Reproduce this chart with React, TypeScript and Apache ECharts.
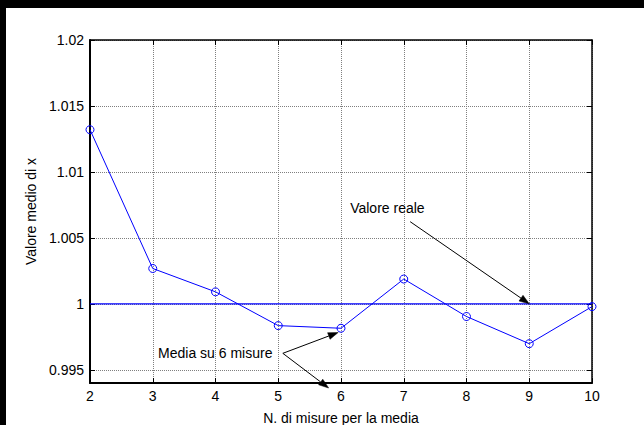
import React, { useEffect, useRef } from "react";
import * as echarts from "echarts";

// ---- data ----
const measureCounts = [2, 3, 4, 5, 6, 7, 8, 9, 10];
const meanValues = [1.0132, 1.00268, 1.00091, 0.99835, 0.99815, 1.00188, 0.99904, 0.99698, 0.99979];
const trueValue = 1;
const xRange = [2, 10];
const yRange = [0.994, 1.02];

// annotations (data coordinates)
const labelValoreReale = { text: "Valore reale", at: [6.146, 1.00729] };
const labelMedia = { text: "Media su 6 misure", at: [3.085, 0.9963] };
const arrows = [
  { from: [7.102, 1.00623], to: [9, 1.0] },
  { from: [5.073, 0.99625], to: [5.955, 0.99783] },
  { from: [5.073, 0.99625], to: [5.803, 0.99362] },
];

const FONT = "Liberation Sans";
const W = 644;
const H = 425;

export default function App() {
  const ref = useRef<HTMLDivElement>(null);

  useEffect(() => {
    document.body.style.margin = "0";
    const el = ref.current!;
    const chart = echarts.init(el, null, { renderer: "svg" });

    const axisLineLeftBottom = { show: true, onZero: false, lineStyle: { color: "#000", width: 2 } };
    const axisLineTopRight = { show: true, onZero: false, lineStyle: { color: "#000", width: 1.5 } };
    const tick = { show: true, inside: true, length: 5, lineStyle: { color: "#000", width: 1 } };
    const split = { show: true, lineStyle: { color: "#7f7f7f", width: 1, type: "dotted" as const } };

    const option: any = {
      animation: false,
      backgroundColor: "#fff",
      grid: { left: 90, right: 52, top: 40, bottom: 42, containLabel: false, outerBoundsMode: "none" },
      xAxis: [
        {
          type: "value",
          min: xRange[0],
          max: xRange[1],
          interval: 1,
          position: "bottom",
          name: "N. di misure per la media",
          nameLocation: "middle",
          nameGap: 28,
          nameTextStyle: { color: "#000", fontSize: 14, fontFamily: FONT },
          axisLine: axisLineLeftBottom,
          axisTick: tick,
          splitLine: split,
          axisLabel: { color: "#000", fontSize: 14, fontFamily: FONT, margin: 6 },
        },
        {
          type: "value",
          min: xRange[0],
          max: xRange[1],
          interval: 1,
          position: "top",
          axisLine: axisLineTopRight,
          axisTick: tick,
          splitLine: { show: false },
          axisLabel: { show: false },
        },
      ],
      yAxis: [
        {
          type: "value",
          min: yRange[0],
          max: yRange[1],
          splitNumber: 5,
          position: "left",
          name: "Valore medio di x",
          nameLocation: "middle",
          nameGap: 40,
          nameTextStyle: { color: "#000", fontSize: 14, fontFamily: FONT },
          axisLine: axisLineLeftBottom,
          axisTick: tick,
          splitLine: split,
          axisLabel: { color: "#000", fontSize: 14, fontFamily: FONT, margin: 6, showMinLabel: false },
        },
        {
          type: "value",
          min: yRange[0],
          max: yRange[1],
          splitNumber: 5,
          position: "right",
          axisLine: axisLineTopRight,
          axisTick: tick,
          splitLine: { show: false },
          axisLabel: { show: false },
        },
      ],
      series: [
        {
          type: "line",
          xAxisIndex: 0,
          yAxisIndex: 0,
          data: measureCounts.map((x, i) => [x, meanValues[i]]),
          symbol: "circle",
          symbolSize: 8,
          clip: false,
          lineStyle: { color: "#0000ff", width: 1 },
          itemStyle: { color: "rgba(0,0,0,0)", borderColor: "#0000ff", borderWidth: 1 },
          z: 3,
        },
        {
          type: "line",
          xAxisIndex: 0,
          yAxisIndex: 0,
          data: [
            [xRange[0], trueValue],
            [xRange[1], trueValue],
          ],
          symbol: "none",
          lineStyle: { color: "#0000ff", width: 1.3 },
          z: 2,
        },
      ],
    };
    chart.setOption(option);

    const px = (p: number[]) => chart.convertToPixel({ seriesIndex: 0 }, p) as number[];
    const graphics: any[] = [
      { type: "rect", z: -10, silent: true, shape: { x: 0, y: 0, width: W, height: H }, style: { fill: "#fff" } },
      { type: "rect", z: -9, silent: true, shape: { x: 0, y: 0, width: W, height: 8 }, style: { fill: "#000" } },
      { type: "rect", z: -9, silent: true, shape: { x: 0, y: 0, width: 6, height: H }, style: { fill: "#000" } },
    ];
    [labelValoreReale, labelMedia].forEach((l) => {
      const p = px(l.at);
      graphics.push({
        type: "text",
        x: p[0],
        y: p[1],
        z: 10,
        style: {
          text: l.text,
          fill: "#000",
          fontSize: 14,
          fontFamily: FONT,
          align: "left",
          verticalAlign: "middle",
        },
      });
    });
    arrows.forEach((a) => {
      const s = px(a.from);
      const e = px(a.to);
      const dx = e[0] - s[0];
      const dy = e[1] - s[1];
      const len = Math.sqrt(dx * dx + dy * dy);
      const ux = dx / len;
      const uy = dy / len;
      const hl = 10;
      const hw = 3.5;
      const bx = e[0] - ux * hl;
      const by = e[1] - uy * hl;
      graphics.push({
        type: "line",
        z: 10,
        shape: { x1: s[0], y1: s[1], x2: bx, y2: by },
        style: { stroke: "#000", lineWidth: 1 },
      });
      graphics.push({
        type: "polygon",
        z: 10,
        shape: {
          points: [
            [e[0], e[1]],
            [bx - uy * hw, by + ux * hw],
            [bx + uy * hw, by - ux * hw],
          ],
        },
        style: { fill: "#000", stroke: "#000", lineWidth: 0.5 },
      });
    });
    chart.setOption({ graphic: graphics });

    return () => chart.dispose();
  }, []);

  return (
    <div
      ref={ref}
      style={{ position: "fixed", left: 0, top: 0, width: W, height: H, background: "#fff" }}
    />
  );
}
